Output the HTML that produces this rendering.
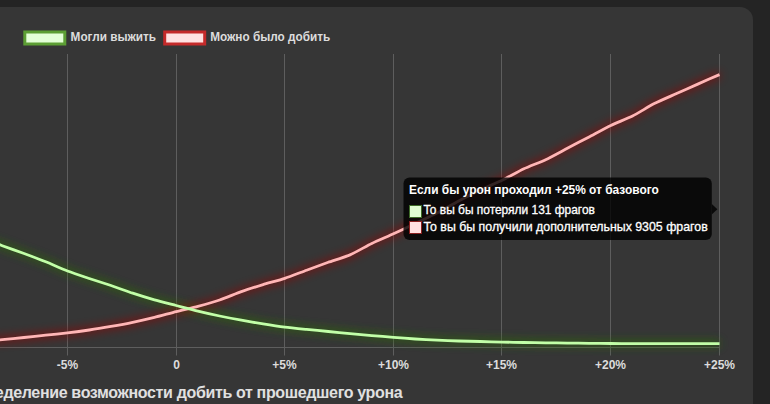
<!DOCTYPE html>
<html><head><meta charset="utf-8"><style>
html,body{margin:0;padding:0;}
body{width:770px;height:404px;overflow:hidden;background:#242424;position:relative;font-family:"Liberation Sans",sans-serif;}
.card{position:absolute;left:-40px;top:7px;width:793px;height:440px;background:#363636;border-radius:13px;}
svg{position:absolute;left:0;top:0;}
</style></head><body>
<div class="card"></div>
<svg width="770" height="404" viewBox="0 0 770 404" font-family="Liberation Sans, sans-serif">
<defs>
<filter id="gg" x="-20%" y="-50%" width="140%" height="200%"><feGaussianBlur in="SourceGraphic" stdDeviation="5"/></filter>
</defs>
<g stroke="#5e5e5e" stroke-width="1"><line x1="67.5" y1="54" x2="67.5" y2="355.5"/><line x1="176.5" y1="54" x2="176.5" y2="355.5"/><line x1="284.5" y1="54" x2="284.5" y2="355.5"/><line x1="393.5" y1="54" x2="393.5" y2="355.5"/><line x1="501.5" y1="54" x2="501.5" y2="355.5"/><line x1="610.5" y1="54" x2="610.5" y2="355.5"/><line x1="719.5" y1="54" x2="719.5" y2="355.5"/>
<line x1="0" y1="347.5" x2="720" y2="347.5"/></g>
<path d="M-19.43,237.60 C-15.09,239.22 -2.06,244.11 2.30,245.70 C6.64,247.29 19.70,251.90 24.03,253.50 C28.40,255.12 41.45,260.06 45.77,261.80 C50.14,263.56 63.10,269.31 67.50,271.00 C71.79,272.65 84.87,277.04 89.23,278.50 C93.56,279.94 106.64,284.04 110.97,285.50 C115.33,286.98 128.32,291.75 132.70,293.20 C137.02,294.63 150.06,298.66 154.43,299.90 C158.75,301.12 171.82,304.38 176.17,305.50 C180.51,306.62 193.54,310.05 197.90,311.10 C202.23,312.15 215.27,315.09 219.63,316.00 C223.97,316.91 237.01,319.41 241.37,320.20 C245.70,320.99 258.75,323.21 263.10,323.90 C267.44,324.59 280.48,326.55 284.83,327.10 C289.17,327.65 302.22,328.96 306.57,329.40 C310.91,329.84 323.95,331.08 328.30,331.50 C332.65,331.92 345.69,333.19 350.03,333.60 C354.38,334.01 367.42,335.23 371.77,335.60 C376.11,335.97 389.15,336.96 393.50,337.30 C397.85,337.64 410.88,338.71 415.23,339.00 C419.58,339.29 432.62,340.00 436.97,340.20 C441.31,340.40 454.35,340.87 458.70,341.00 C463.05,341.13 476.09,341.39 480.43,341.50 C484.78,341.61 497.82,342.00 502.17,342.10 C506.51,342.20 519.55,342.43 523.90,342.50 C528.25,342.57 541.29,342.74 545.63,342.80 C549.98,342.86 563.02,343.05 567.37,343.10 C571.71,343.15 584.75,343.26 589.10,343.30 C593.45,343.34 606.49,343.47 610.83,343.50 C615.18,343.53 628.22,343.59 632.57,343.60 C636.91,343.61 649.95,343.60 654.30,343.60 C658.65,343.60 671.69,343.60 676.03,343.60 C680.38,343.60 693.42,343.60 697.77,343.60 C702.11,343.60 715.15,343.60 719.50,343.60" fill="none" stroke="#2c6e08" stroke-width="5" filter="url(#gg)" opacity="0.85"/>
<path d="M-19.43,341.70 C-15.09,341.28 -2.05,340.02 2.30,339.60 C6.65,339.18 19.69,337.94 24.03,337.50 C28.38,337.06 41.42,335.66 45.77,335.20 C50.11,334.74 63.16,333.42 67.50,332.90 C71.85,332.38 84.90,330.65 89.23,330.00 C93.59,329.35 106.63,327.17 110.97,326.40 C115.32,325.63 128.37,323.20 132.70,322.30 C137.06,321.40 150.11,318.46 154.43,317.40 C158.80,316.32 171.81,312.71 176.17,311.60 C180.50,310.49 193.58,307.45 197.90,306.30 C202.27,305.13 215.35,301.45 219.63,300.00 C224.04,298.51 236.98,293.16 241.37,291.60 C245.67,290.08 258.73,285.94 263.10,284.60 C267.43,283.28 280.54,279.72 284.83,278.30 C289.23,276.84 302.21,271.80 306.57,270.20 C310.91,268.60 323.94,263.84 328.30,262.30 C332.63,260.78 345.83,256.72 350.03,254.90 C354.52,252.96 367.35,245.64 371.77,243.50 C376.05,241.42 389.18,235.79 393.50,233.80 C397.87,231.79 410.89,225.58 415.23,223.50 C419.59,221.42 432.68,215.22 436.97,213.00 C441.37,210.72 454.31,203.32 458.70,201.00 C463.01,198.72 476.04,192.10 480.43,190.00 C484.73,187.94 497.88,182.29 502.17,180.20 C506.58,178.05 519.46,170.89 523.90,168.80 C528.16,166.79 541.38,161.71 545.63,159.70 C550.07,157.61 563.02,150.58 567.37,148.30 C571.71,146.02 584.76,139.19 589.10,136.90 C593.45,134.61 606.40,127.53 610.83,125.40 C615.10,123.35 628.34,118.12 632.57,116.00 C637.03,113.76 649.85,105.87 654.30,103.60 C658.54,101.43 671.68,95.75 676.03,93.80 C680.38,91.85 693.41,86.02 697.77,84.10 C702.11,82.18 715.15,76.50 719.50,74.60" fill="none" stroke="#981010" stroke-width="5" filter="url(#gg)" opacity="0.85"/>
<path d="M-19.43,341.70 C-15.09,341.28 -2.05,340.02 2.30,339.60 C6.65,339.18 19.69,337.94 24.03,337.50 C28.38,337.06 41.42,335.66 45.77,335.20 C50.11,334.74 63.16,333.42 67.50,332.90 C71.85,332.38 84.90,330.65 89.23,330.00 C93.59,329.35 106.63,327.17 110.97,326.40 C115.32,325.63 128.37,323.20 132.70,322.30 C137.06,321.40 150.11,318.46 154.43,317.40 C158.80,316.32 171.81,312.71 176.17,311.60 C180.50,310.49 193.58,307.45 197.90,306.30 C202.27,305.13 215.35,301.45 219.63,300.00 C224.04,298.51 236.98,293.16 241.37,291.60 C245.67,290.08 258.73,285.94 263.10,284.60 C267.43,283.28 280.54,279.72 284.83,278.30 C289.23,276.84 302.21,271.80 306.57,270.20 C310.91,268.60 323.94,263.84 328.30,262.30 C332.63,260.78 345.83,256.72 350.03,254.90 C354.52,252.96 367.35,245.64 371.77,243.50 C376.05,241.42 389.18,235.79 393.50,233.80 C397.87,231.79 410.89,225.58 415.23,223.50 C419.59,221.42 432.68,215.22 436.97,213.00 C441.37,210.72 454.31,203.32 458.70,201.00 C463.01,198.72 476.04,192.10 480.43,190.00 C484.73,187.94 497.88,182.29 502.17,180.20 C506.58,178.05 519.46,170.89 523.90,168.80 C528.16,166.79 541.38,161.71 545.63,159.70 C550.07,157.61 563.02,150.58 567.37,148.30 C571.71,146.02 584.76,139.19 589.10,136.90 C593.45,134.61 606.40,127.53 610.83,125.40 C615.10,123.35 628.34,118.12 632.57,116.00 C637.03,113.76 649.85,105.87 654.30,103.60 C658.54,101.43 671.68,95.75 676.03,93.80 C680.38,91.85 693.41,86.02 697.77,84.10 C702.11,82.18 715.15,76.50 719.50,74.60" fill="none" stroke="#ffb6b6" stroke-width="2.8" stroke-linejoin="round"/>
<path d="M-19.43,237.60 C-15.09,239.22 -2.06,244.11 2.30,245.70 C6.64,247.29 19.70,251.90 24.03,253.50 C28.40,255.12 41.45,260.06 45.77,261.80 C50.14,263.56 63.10,269.31 67.50,271.00 C71.79,272.65 84.87,277.04 89.23,278.50 C93.56,279.94 106.64,284.04 110.97,285.50 C115.33,286.98 128.32,291.75 132.70,293.20 C137.02,294.63 150.06,298.66 154.43,299.90 C158.75,301.12 171.82,304.38 176.17,305.50 C180.51,306.62 193.54,310.05 197.90,311.10 C202.23,312.15 215.27,315.09 219.63,316.00 C223.97,316.91 237.01,319.41 241.37,320.20 C245.70,320.99 258.75,323.21 263.10,323.90 C267.44,324.59 280.48,326.55 284.83,327.10 C289.17,327.65 302.22,328.96 306.57,329.40 C310.91,329.84 323.95,331.08 328.30,331.50 C332.65,331.92 345.69,333.19 350.03,333.60 C354.38,334.01 367.42,335.23 371.77,335.60 C376.11,335.97 389.15,336.96 393.50,337.30 C397.85,337.64 410.88,338.71 415.23,339.00 C419.58,339.29 432.62,340.00 436.97,340.20 C441.31,340.40 454.35,340.87 458.70,341.00 C463.05,341.13 476.09,341.39 480.43,341.50 C484.78,341.61 497.82,342.00 502.17,342.10 C506.51,342.20 519.55,342.43 523.90,342.50 C528.25,342.57 541.29,342.74 545.63,342.80 C549.98,342.86 563.02,343.05 567.37,343.10 C571.71,343.15 584.75,343.26 589.10,343.30 C593.45,343.34 606.49,343.47 610.83,343.50 C615.18,343.53 628.22,343.59 632.57,343.60 C636.91,343.61 649.95,343.60 654.30,343.60 C658.65,343.60 671.69,343.60 676.03,343.60 C680.38,343.60 693.42,343.60 697.77,343.60 C702.11,343.60 715.15,343.60 719.50,343.60" fill="none" stroke="#c2ffa8" stroke-width="2.8" stroke-linejoin="round"/>
<g font-size="12" font-weight="bold" fill="#dcdcdc" text-anchor="middle"><text x="67.5" y="369">-5%</text><text x="176.5" y="369">0</text><text x="284.5" y="369">+5%</text><text x="393.5" y="369">+10%</text><text x="501.5" y="369">+15%</text><text x="610.5" y="369">+20%</text><text x="719.5" y="369">+25%</text></g>
<g>
<rect x="24.8" y="32" width="40" height="12" fill="#e4ffd8" stroke="#5c9e34" stroke-width="3"/>
<text x="70.6" y="40.9" font-size="12.5" font-weight="bold" fill="#dcdcdc" textLength="85.5" lengthAdjust="spacingAndGlyphs">Могли выжить</text>
<rect x="164.7" y="32" width="40" height="12" fill="#ffe2e2" stroke="#c42a2a" stroke-width="3"/>
<text x="210.2" y="40.9" font-size="12.5" font-weight="bold" fill="#dcdcdc" textLength="120" lengthAdjust="spacingAndGlyphs">Можно было добить</text>
</g>
<g>
<rect x="403.5" y="177.5" width="308.3" height="62.5" rx="6" fill="rgba(0,0,0,0.8)"/>
<path d="M711.8,204 L717.4,209.2 L711.8,214.4 Z" fill="rgba(0,0,0,0.8)"/>
<text x="409" y="194" font-size="11.93" font-weight="bold" fill="#fff">Если бы урон проходил +25% от базового</text>
<rect x="409" y="205" width="13" height="13" fill="#3e6a28"/><rect x="410" y="206" width="11" height="11" fill="#e0fcd2"/>
<text x="423.5" y="213.8" font-size="11.95" fill="#fff" stroke="#fff" stroke-width="0.3">То вы бы потеряли 131 фрагов</text>
<rect x="409" y="221" width="13" height="13" fill="#8a2020"/><rect x="410" y="222" width="11" height="11" fill="#ffe0e0"/>
<text x="423.5" y="230.8" font-size="12.35" fill="#fff" stroke="#fff" stroke-width="0.3">То вы бы получили дополнительных 9305 фрагов</text>
</g>
<text x="402.3" y="398" font-size="16" font-weight="bold" letter-spacing="-0.35" fill="#e0e0e0" text-anchor="end">Распределение возможности добить от прошедшего урона</text>
</svg>
</body></html>
